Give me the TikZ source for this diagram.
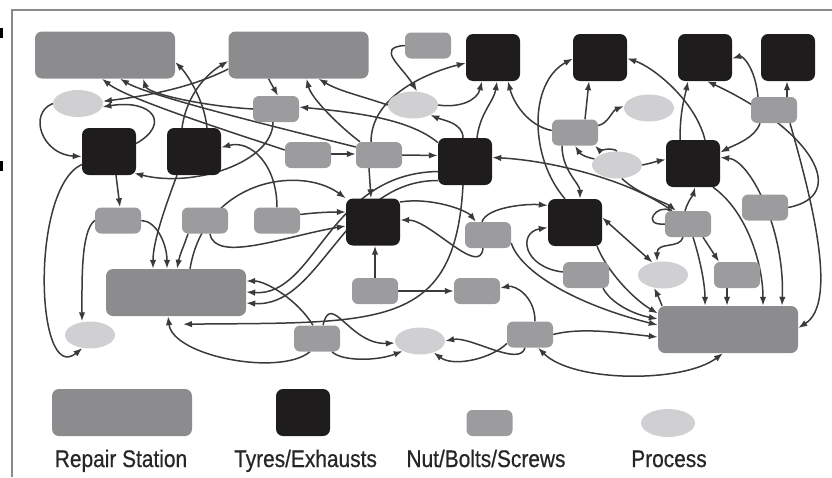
\documentclass[tikz,border=0pt]{standalone}
\usepackage{fontspec}
\newfontfamily\legendfont[FakeStretch=0.87,FakeBold=0.6]{Liberation Sans}
\usetikzlibrary{arrows.meta,shapes.geometric}
\pgfdeclarelayer{edges}
\pgfsetlayers{edges,main}

\definecolor{stationgray}{HTML}{8C8C8E}
\definecolor{tyreblack}{HTML}{1E1C1D}
\definecolor{nutgray}{HTML}{9C9C9E}
\definecolor{processgray}{HTML}{D0D0D2}
\definecolor{wire}{HTML}{3A3A3A}
\definecolor{framegray}{HTML}{8A8A8A}

\tikzset{
  station/.style={rectangle, rounded corners=7pt, fill=stationgray, minimum width=140pt, minimum height=47pt, inner sep=0pt},
  tyre/.style={rectangle, rounded corners=7pt, fill=tyreblack, minimum width=54pt, minimum height=47pt, inner sep=0pt},
  nut/.style={rectangle, rounded corners=6pt, fill=nutgray, minimum width=46pt, minimum height=26pt, inner sep=0pt},
  process/.style={ellipse, fill=processgray, minimum width=50pt, minimum height=27pt, inner sep=0pt},
  link/.style={draw=wire, line width=1.5pt, -{Latex[length=9pt,width=6.5pt]}},
  twoway/.style={draw=wire, line width=1.5pt, {Latex[length=9pt,width=6.5pt]}-{Latex[length=9pt,width=6.5pt]}},
  plain/.style={draw=wire, line width=1.5pt},
  legendtext/.style={font=\legendfont\fontsize{24}{27}\selectfont, text=black!85, anchor=base, inner sep=0pt}
}

\begin{document}
\begin{tikzpicture}[x=1pt,y=-1pt]
\useasboundingbox (0,0) rectangle (832,477);

% frame and edge ticks
\draw[framegray, line width=1.5pt] (12,477) -- (12,10) -- (832,10);
\fill[black] (0,28) rectangle (2.5,38);
\fill[black] (0,161) rectangle (2.5,171);

% repair stations
\node[station] (R1) at (105,55) {};
\node[station] (R2) at (298.5,55) {};
\node[station] (R3) at (176,292.5) {};
\node[station] (R4) at (728,329.5) {};

% tyres / exhausts
\node[tyre] (T1) at (109,151.5) {};
\node[tyre] (T2) at (194,151.5) {};
\node[tyre] (T3) at (493,57.5) {};
\node[tyre] (T4) at (600,57.5) {};
\node[tyre] (T5) at (705,57.5) {};
\node[tyre] (T6) at (788,57.5) {};
\node[tyre] (T7) at (465,161.5) {};
\node[tyre] (T8) at (693,163.5) {};
\node[tyre] (T9) at (373,222) {};
\node[tyre] (T10) at (575,222.5) {};

% nuts / bolts / screws
\node[nut] (N1) at (428,45.5) {};
\node[nut] (N2) at (276,109) {};
\node[nut] (N3) at (308,155) {};
\node[nut] (N4) at (379,155) {};
\node[nut] (N5) at (575,132.5) {};
\node[nut] (N6) at (774,110) {};
\node[nut] (N7) at (118,220.5) {};
\node[nut] (N8) at (205,220.5) {};
\node[nut] (N9) at (277,220.5) {};
\node[nut] (N10) at (488,235) {};
\node[nut] (N11) at (688,224) {};
\node[nut] (N12) at (765,207.5) {};
\node[nut] (N13) at (586,275) {};
\node[nut] (N14) at (737,275) {};
\node[nut] (N15) at (477,291) {};
\node[nut] (N16) at (375,291) {};
\node[nut] (N17) at (530,334.5) {};
\node[nut] (N18) at (317,338.5) {};

% processes
\node[process] (P1) at (78,103.5) {};
\node[process] (P2) at (413,105) {};
\node[process] (P3) at (649,108) {};
\node[process] (P4) at (617,165) {};
\node[process] (P5) at (663,275) {};
\node[process] (P6) at (90,335) {};
\node[process] (P7) at (420,341) {};

% legend
\node[station] (LR) at (122,412.5) {};
\node[tyre] (LT) at (303,412.5) {};
\node[nut] (LN) at (489.5,423) {};
\node[process, minimum width=54pt, minimum height=28pt] (LP) at (668,423) {};
\node[legendtext] (LRt) at (121,467) {Repair Station};
\node[legendtext] (LTt) at (305.5,467) {Tyres/Exhausts};
\node[legendtext] (LNt) at (486,467) {Nut/Bolts/Screws};
\node[legendtext] (LPt) at (669,467) {Process};

\begin{pgfonlayer}{edges}
% left block
\draw[link] ([yshift=8pt]T1.east) .. controls +(35,-20) and +(50,-8) .. (P1.-8);
\draw[link] (P1.west) .. controls +(-25,10) and +(-40,-2) .. ([yshift=-5pt]T1.west);
\draw[link] ([yshift=-13pt]T1.west) .. controls +(-52,24) and +(-47,38) .. (P6.240);
\draw[link] ([xshift=7pt]T1.south) -- ([xshift=2pt]N7.north);
\draw[link] ([xshift=-3pt]N2.south) .. controls +(0,40) and +(60,15) .. ([xshift=-2pt,yshift=2pt]T1.south east);
\draw[link] (N9.north) .. controls +(0,-42) and +(30,-8) .. ([yshift=4pt]T2.east);
\draw[link] ([xshift=13pt]T2.north) .. controls +(-3,-30) and +(10,10) .. ([yshift=-7pt]R1.east);
\draw[link] ([xshift=-12pt]T2.north) .. controls +(5,-35) and +(-20,12) .. ([yshift=-6pt]R2.west);
\draw[link] ([xshift=-17pt]T2.south) .. controls +(-15,40) and +(0,-25) .. ([xshift=-23pt]R3.north);
\draw[link] ([xshift=14pt]R3.north) .. controls +(15,-89) and +(-46,-33.5) .. (T9.north west);
\draw[link] ([xshift=5pt]N8.south) .. controls +(5,30) and +(-60,10) .. ([yshift=-4pt]T9.west);
\draw[link] ([yshift=6pt]N9.east) .. controls +(15,-2) and +(-15,0) .. ([yshift=10pt]T9.west);
\draw[link] (N7.east) .. controls +(15,0) and +(0,-25) .. ([xshift=-9pt]R3.north);
\draw[link] ([xshift=-17pt]N8.south) .. controls +(-5,15) and +(3,-15) .. ([xshift=1pt]R3.north);
\draw[link] (N7.west) .. controls +(-14,10) and +(0,-40) .. ([xshift=-8pt]P6.north);
\draw[link] ([yshift=5pt]N3.west) .. controls +(-60,-20) and +(25,20) .. ([xshift=-3pt]R1.south);
\draw[link] ([yshift=8pt]N4.west) .. controls +(-60,-15) and +(30,18) .. ([xshift=15pt]R1.south);
\draw[link] (N2.west) .. controls +(-50,-3) and +(5,15) .. ([xshift=38pt]R1.south);
\draw[link] ([yshift=-14pt]R2.west) .. controls +(-40,20) and +(40,-5) .. (P1.5);
\draw[link] ([xshift=-30pt]R2.south) -- ([xshift=2pt]N2.north);

% upper middle
\draw[link] ([xshift=-19pt]N4.north) .. controls +(-20,-15) and +(5,20) .. ([xshift=8pt]R2.south);
\draw[link] (P2.west) .. controls +(-30,-10) and +(20,12) .. ([xshift=20pt]R2.south);
\draw[link] ([yshift=19pt]T7.west) .. controls +(-30,-25) and +(50,5) .. ([yshift=2pt]N2.east);
\draw[link] ([yshift=1pt]N3.east) -- ([yshift=1pt]N4.west);
\draw[link] (N4.east) -- ([yshift=6pt]T7.west);
\draw[link] ([xshift=-10pt]N4.south) -- ([xshift=-2pt]T9.north);
\draw[link] ([xshift=-8pt]N4.north) .. controls +(0,-45) and +(-40,10) .. ([yshift=-5.5pt]T3.west);
\draw[link] (N1.west) .. controls +(-30,2) and +(-15,-25) .. ([xshift=4pt]P2.north);
\draw[link] (P2.east) .. controls +(20,3) and +(-5,20) .. ([xshift=-11pt]T3.south);
\draw[link] ([xshift=-2pt]T7.north) .. controls +(0,-15) and +(12,5) .. (P2.-30);
\draw[link] ([xshift=12pt]T7.north) .. controls +(3,-25) and +(-3,20) .. ([xshift=4pt]T3.south);
\draw[link] ([yshift=2pt]N5.west) .. controls +(-25,-5) and +(5,20) .. ([xshift=15pt]T3.south);

% upper right
\draw[link] ([xshift=-10pt]T10.north) .. controls +(-35,-40) and +(-45,25) .. ([yshift=-1pt]T4.west);
\draw[link] ([xshift=10pt]N5.north) -- ([xshift=-11pt]T4.south);
\draw[link] ([yshift=7pt]N5.east) .. controls +(10,-2) and +(-12,5) .. ([yshift=2pt]P3.west);
\draw[link] ([xshift=-13pt]N5.south) .. controls +(0,25) and +(0,-15) .. ([xshift=5pt]T10.north);
\draw[link] (P4.165) .. controls +(-10,-2) and +(5,8) .. (N5.south);
\draw[link] (P4.north) .. controls +(-3,-4) and +(4,4) .. ([xshift=20pt]N5.south);
\draw[link] (P4.east) .. controls +(10,-2) and +(-10,2) .. ([yshift=4pt]T8.west);
\draw[link] ([xshift=-13pt]T8.north) .. controls +(0,-30) and +(-3,15) .. ([xshift=-17pt]T5.south);
\draw[link] ([xshift=12pt]T8.north) .. controls +(-10,-40) and +(25,8) .. ([yshift=-1pt]T4.east);
\draw[link] (N12.east) .. controls +(62,-12) and +(105,49) .. ([xshift=2pt]T5.south);
\draw[link] ([xshift=13pt]N6.north) -- ([xshift=-1pt]T6.south);
\draw[link] ([xshift=-16pt]N6.north) .. controls +(-3,-30) and +(10,-3) .. ([yshift=-1pt]T5.east);
\draw[link] ([xshift=-14pt]N6.south) .. controls +(-5,15) and +(15,-8) .. ([yshift=11pt]T8.east);
\draw[link] ([xshift=16pt]N6.south) .. controls +(22,77) and +(40,-25) .. ([yshift=1.5pt]R4.east);
\draw[link] ([xshift=20pt]T8.south) .. controls +(35,25) and +(0,-40) .. ([xshift=35pt]R4.north);
\draw[twoway] ([yshift=6pt]T8.east) .. controls +(30,2.5) and +(3,-76) .. ([xshift=54pt]R4.north);

% lower right
\draw[link] ([xshift=5pt]N11.south) .. controls +(8,25) and +(0,-20) .. ([xshift=-23pt]R4.north);
\draw[link] ([xshift=15pt]N11.south) -- ([xshift=-18pt]N14.north);
\draw[link] ([xshift=-10pt]N14.south) -- ([xshift=-1pt]R4.north);
\draw[link] ([xshift=-5pt]N11.south) .. controls +(-3,12) and +(0,-20) .. ([xshift=-6pt]P5.north);
\draw[twoway] ([yshift=5pt]T10.east) -- (P5.130);
\draw[link] ([xshift=-66pt]R4.north) .. controls +(-3,-8) and +(3,6) .. (P5.235);
\draw[link] ([xshift=22pt]T10.south) .. controls +(10,25) and +(-25,-15) .. ([yshift=16pt]R4.west);
\draw[link] ([xshift=17pt]N13.south) .. controls +(8,15) and +(-25,-5) .. ([yshift=10.5pt]R4.west);
\draw[link] ([yshift=-8pt]N10.east) .. controls +(10,30) and +(-80,-20) .. ([yshift=4.5pt]R4.west);
\draw[link] (N17.east) .. controls +(30,-8) and +(-30,-3) .. ([yshift=-7.5pt]R4.west);
\draw[twoway] ([xshift=8pt]N17.south) .. controls +(35,35) and +(-40,30) .. ([xshift=-5pt]R4.south);
\draw[link] ([xshift=-16pt]N11.north) .. controls +(-40,-30) and +(60,3) .. ([yshift=4pt]T7.east);
\draw[link] (P4.-70) .. controls +(15,15) and +(-10,-8) .. ([xshift=-12pt]N11.north);
\draw[plain] (N11.west) .. controls +(-25,2) and +(-12,-8) .. ([xshift=-18pt]N11.north);
\draw[link] ([xshift=-3pt]N11.north) .. controls +(3,-10) and +(-2,8) .. ([xshift=2pt]T8.south);

% lower middle
\draw[link] ([xshift=5pt]N17.north) .. controls +(0,-25) and +(15,-3) .. ([yshift=3pt]N15.east);
\draw[link] (N16.east) -- (N15.west);
\draw[link] (N16.north) -- ([xshift=2pt]T9.south);
\draw[link] ([xshift=6pt]N18.north) .. controls +(8,-35) and +(-45,2) .. ([yshift=-2pt]P7.west);
\draw[link] ([xshift=15pt]N18.south) .. controls +(10,10) and +(-25,10) .. (P7.210);
\draw[link] ([xshift=-5pt]N17.south) .. controls +(-5,20) and +(25,-5) .. (P7.east);
\draw[link] ([yshift=-9pt]N17.west) .. controls +(-15,15) and +(20,15) .. (P7.-40);
\draw[link] ([xshift=-7pt]N18.south) .. controls +(-30,25) and +(5,40) .. ([xshift=-8pt]R3.south);
\draw[link] ([xshift=-2pt]T7.south) .. controls +(-8,145) and +(197,-2) .. ([xshift=7pt,yshift=-8pt]R3.south);
\draw[link] ([yshift=-10pt]T7.west) .. controls +(-110,2) and +(70,5) .. ([yshift=0.5pt]R3.east);
\draw[link] ([yshift=-19pt]T7.west) .. controls +(-95,0) and +(75,5) .. ([yshift=-10.5pt]R3.east);
\draw[link] ([xshift=-4pt]N18.north) .. controls +(-15,-25) and +(20,0) .. ([yshift=11.5pt]R3.east);
\draw[link] ([xshift=-6pt]N10.north) .. controls +(5,-15) and +(-20,-2) .. ([yshift=17pt]T10.west);
\draw[link] ([yshift=20pt]T9.east) .. controls +(30,-5) and +(-10,-12) .. ([xshift=-12pt]N10.north);
\draw[link] ([xshift=-5pt]N10.south) .. controls +(-3,30) and +(30,0) .. ([yshift=2pt]T9.east);
\draw[link] ([yshift=3pt]N13.west) .. controls +(-40,-5) and +(-30,5) .. ([yshift=-5pt]T10.west);
\end{pgfonlayer}
\end{tikzpicture}
\end{document}
